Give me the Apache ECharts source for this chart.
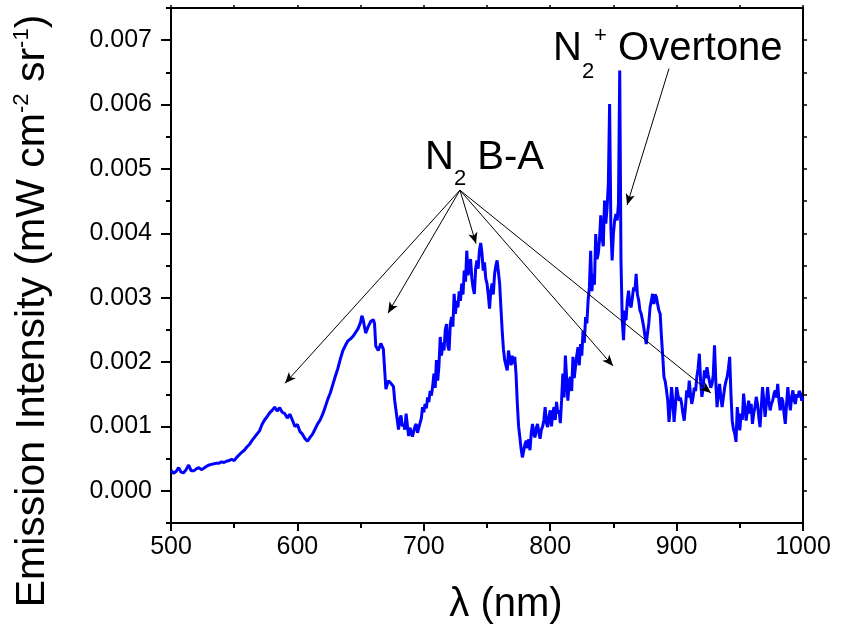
<!DOCTYPE html>
<html>
<head>
<meta charset="utf-8">
<script src="https://cdn.jsdelivr.net/npm/echarts/dist/echarts.min.js"></script>
<style>
html,body{margin:0;padding:0;background:#fff;}
#chart{width:846px;height:631px;}
</style>
</head>
<body>
<div id="chart"></div>
<script>
// Wavelength (nm)
const wavelength = [
 500,502,504,506,508,510,512,514,516,518,
 520,522,524,526,528,530,532,534,536,538,
 540,542,544,546,548,550,552,554,556,558,
 560,562,564,566,568,570,572,574,576,578,
 580,582,584,586,588,590,592,594,596,598,
 600,602,604,606,608,610,612,614,616,618,
 620,622,624,626,628,630,632,634,636,638,
 640,642,644,646,648,650,651,652,654,656,
 658,660,661,662,664,666,668,669,670,672,
 674,676,677,678,
 680,681,682,683,684,685,686,687,688,689,
 690,691,692,693,694,695,696,697,698,699,
 700,701,702,703,704,705,706,707,708,709,
 710,711,712,713,714,715,716,717,718,719,
 720,721,722,723,724,725,726,727,728,729,
 730,731,732,733,734,735,736,737,738,739,
 740,741,742,743,744,745,746,747,748,749,
 750,751,752,753,754,755,756,757,758,759,
 760,761,762,763,764,765,766,767,768,769,
 770,771,772,773,774,775,776,777,778,779,
 780,781,782,783,784,785,786,787,788,789,
 790,791,792,793,794,795,796,797,798,799,
 800,801,802,803,804,805,806,807,808,809,
 810,811,812,813,814,815,816,817,818,819,
 820,821,822,823,824,825,826,827,828,829,
 830,831,832,833,834,835,836,837,838,839,
 840,841,842,843,844,845,846,847,848,849,
 850,851,852,853,854,855,856,857,858,859,
 860,861,862,863,864,865,866,867,868,869,
 870,871,872,873,874,875,876,877,878,879,
 880,881,882,883,884,885,886,887,888,889,
 890,891,892,893,894,895,896,897,898,899,
 900,901,902,903,904,905,906,907,908,909,
 910,911,912,913,914,915,916,917,918,919,
 920,921,922,923,924,925,926,927,928,929,
 930,931,932,933,934,935,936,937,938,939,
 940,941,942,943,944,945,946,947,948,949,
 950,951,952,953,954,955,956,957,958,959,
 960,961,962,963,964,965,966,967,968,969,
 970,971,972,973,974,975,976,977,978,979,
 980,981,982,983,984,985,986,987,988,989,
 990,991,992,993,994,995,996,997,998,999,
 1000
];
// Emission intensity, in units of 0.001 mW cm^-2 sr^-1
const intensity_e3 = [
 .32,.27,.30,.36,.29,.28,.33,.40,.31,.31,
 .34,.36,.33,.35,.38,.40,.41,.42,.43,.43,
 .45,.44,.46,.47,.49,.47,.52,.56,.60,.63,
 .68,.72,.78,.83,.88,.93,1.03,1.10,1.15,1.21,
 1.25,1.30,1.24,1.29,1.22,1.20,1.13,1.19,1.10,1.00,
 1.03,.92,.88,.81,.77,.83,.88,.96,1.04,1.10,
 1.19,1.30,1.42,1.52,1.65,1.78,1.90,2.05,2.18,2.26,
 2.33,2.36,2.40,2.46,2.52,2.62,2.72,2.66,2.45,2.55,
 2.63,2.66,2.60,2.25,2.18,2.29,2.20,2.22,1.58,1.71,
 1.67,1.62,1.40,1.42,
 .95,1.12,1.17,1.00,1.04,.95,1.20,1.02,.85,.98,
 .92,.84,.87,1.00,1.04,.90,.93,1.05,1.12,1.30,
 1.22,1.35,1.28,1.45,1.38,1.55,1.48,1.62,1.82,1.60,
 2.03,1.71,1.95,2.39,2.10,2.30,2.18,2.50,2.59,2.25,
 2.18,2.60,2.70,2.55,3.06,2.75,2.95,2.85,3.10,2.95,
 3.22,3.05,3.42,3.25,3.73,3.35,3.47,3.60,3.30,3.15,
 3.06,3.45,3.58,3.45,3.73,3.85,3.70,3.42,3.55,3.30,
 3.22,3.05,2.83,3.10,3.22,3.05,3.37,3.50,3.58,3.40,
 3.22,2.85,2.49,2.20,2.03,1.95,1.87,2.18,2.05,1.95,
 2.10,1.97,2.08,1.80,1.35,1.00,.83,.65,.52,.62,
 .72,.78,.66,.80,.63,.90,1.04,.88,.83,.98,
 1.04,.90,.81,.95,1.00,1.10,1.30,1.05,.99,1.15,
 1.25,1.00,1.20,1.30,1.10,1.38,1.20,1.25,1.05,1.40,
 1.82,1.45,2.10,2.13,1.40,1.70,1.77,1.55,2.08,1.75,
 1.77,2.10,2.23,1.95,2.28,2.10,2.49,2.30,2.70,2.60,
 2.96,3.16,3.73,3.10,3.37,3.20,3.99,3.60,3.68,3.90,
 4.28,3.94,3.80,4.51,4.15,4.40,4.77,6.01,4.09,3.58,
 3.99,4.20,4.30,4.20,4.46,6.53,3.58,2.65,2.34,2.80,
 2.65,2.95,3.11,2.90,2.85,3.00,3.16,3.10,3.37,3.05,
 2.96,2.80,2.75,2.65,2.54,2.40,2.28,2.45,2.60,2.85,
 2.95,3.06,2.90,3.05,3.01,2.90,2.80,2.75,2.40,2.10,
 1.77,1.70,1.56,1.40,1.07,1.30,1.61,1.40,1.07,1.30,
 1.61,1.50,1.40,1.45,1.35,1.20,1.09,1.30,1.56,1.45,
 1.71,1.50,1.35,1.45,1.60,1.55,1.77,1.90,2.13,1.70,
 1.46,1.60,1.87,1.75,1.92,1.80,1.70,1.60,1.66,1.80,
 2.26,1.70,1.30,1.50,1.66,1.45,1.30,1.45,1.60,1.70,
 1.77,1.90,2.08,1.50,1.09,.95,.89,.76,1.30,1.10,
 .94,1.20,1.10,1.51,1.30,1.09,1.25,1.40,1.20,1.35,
 1.04,1.20,1.30,1.46,1.35,1.15,.99,1.30,1.61,1.40,
 1.15,1.35,1.61,1.40,1.25,1.35,1.40,1.50,1.56,1.45,
 1.66,1.40,1.25,1.45,1.40,1.20,1.04,1.35,1.61,1.40,
 1.25,1.45,1.56,1.40,1.35,1.50,1.45,1.55,1.51,1.40,
 1.45
];
// Axis ticks
const xTicks = [500, 600, 700, 800, 900, 1000];
const yTickLabels = [0, 0.001, 0.002, 0.003, 0.004, 0.005, 0.006, 0.007];
const yMinorTicks = [-0.0005, 0.0005, 0.0015, 0.0025, 0.0035, 0.0045, 0.0055, 0.0065, 0.0075];
const yRightTicks = [0, 0.0005, 0.001, 0.0015, 0.002, 0.0025, 0.003, 0.0035, 0.004, 0.0045, 0.005, 0.0055, 0.006, 0.0065, 0.007];
// Annotation arrows (data coordinates): [start, end]
const bandArrowStart = [728.6, 0.00467];
const bandArrowEnds = [[590.2, 0.00167], [671.7, 0.00276], [741.3, 0.00384], [849.7, 0.00194], [927.2, 0.00152]];
const overtoneArrow = [[894.0, 0.00656], [860.8, 0.00444]];

const FONT = 'Liberation Sans, Arial, sans-serif';
const spectrum = wavelength.map((w, i) => [w, intensity_e3[i] * 1e-3]);

const arrowData = bandArrowEnds.map(e => [{coord: bandArrowStart}, {coord: e}]);
arrowData.push([{coord: overtoneArrow[0]}, {coord: overtoneArrow[1]}]);

const chart = echarts.init(document.getElementById('chart'), null, {renderer: 'canvas'});
const axisLineStyle = {color: '#000', width: 2};
chart.setOption({
  animation: false,
  backgroundColor: '#fff',
  grid: {left: 171, right: 43, top: 8, bottom: 108, containLabel: false, outerBoundsMode: 'none'},
  xAxis: [
    {
      type: 'value', position: 'bottom', min: 500, max: 1000, interval: 100,
      axisLine: {show: true, onZero: false, lineStyle: axisLineStyle},
      axisTick: {show: true, inside: false, length: 8, lineStyle: {color: '#000', width: 2}},
      minorTick: {show: true, splitNumber: 2, length: 5, lineStyle: {color: '#000', width: 2}},
      splitLine: {show: false}, minorSplitLine: {show: false},
      axisLabel: {show: true, margin: 12, fontSize: 25, fontFamily: FONT, color: '#000',
        customValues: xTicks, formatter: v => String(v)}
    },
    {
      type: 'value', position: 'top', min: 500, max: 1000, interval: 100,
      axisLine: {show: true, onZero: false, lineStyle: axisLineStyle},
      axisTick: {show: true, inside: false, length: 3, lineStyle: {color: '#000', width: 1.5}},
      minorTick: {show: true, splitNumber: 2, length: 3, lineStyle: {color: '#000', width: 1.5}},
      splitLine: {show: false}, axisLabel: {show: false}
    }
  ],
  yAxis: [
    {
      type: 'value', position: 'left', min: -0.0005, max: 0.0075,
      axisLine: {show: true, onZero: false, lineStyle: axisLineStyle},
      axisTick: {show: true, inside: false, length: 10, customValues: yTickLabels, lineStyle: {color: '#000', width: 2}},
      splitLine: {show: false},
      axisLabel: {show: true, margin: 19, fontSize: 25, fontFamily: FONT, color: '#000',
        customValues: yTickLabels, formatter: v => v.toFixed(3)}
    },
    {
      type: 'value', position: 'left', min: -0.0005, max: 0.0075,
      axisLine: {show: false},
      axisTick: {show: true, inside: false, length: 5, customValues: yMinorTicks, lineStyle: {color: '#000', width: 2}},
      splitLine: {show: false},
      axisLabel: {show: false}
    },
    {
      type: 'value', position: 'right', min: -0.0005, max: 0.0075,
      axisLine: {show: true, onZero: false, lineStyle: axisLineStyle},
      axisTick: {show: true, inside: false, length: 4, customValues: yRightTicks, lineStyle: {color: '#000', width: 1.5}},
      splitLine: {show: false},
      axisLabel: {show: false}
    }
  ],
  series: [
    {
      type: 'line', xAxisIndex: 0, yAxisIndex: 0, data: spectrum,
      showSymbol: false, symbol: 'none', smooth: false,
      lineStyle: {color: '#0000ff', width: 3},
      clip: true,
      markLine: {
        silent: true, animation: false,
        symbol: ['none', 'arrow'], symbolSize: [7, 11],
        lineStyle: {color: '#000', width: 1, type: 'solid'},
        label: {show: false},
        data: arrowData
      }
    }
  ],
  graphic: [
    {
      type: 'text', x: 33, y: 311, rotation: Math.PI / 2,
      style: {
        text: '{a|Emission Intensity (mW cm}{s|-2}{a| sr}{s|-1}{a|)}',
        textAlign: 'center', textVerticalAlign: 'middle', fill: '#000',
        rich: {
          a: {fontSize: 41, fontFamily: FONT, fill: '#000'},
          s: {fontSize: 22, fontFamily: FONT, fill: '#000', padding: [0, 0, 22, 0]}
        }
      }
    },
    {
      type: 'text', x: 506, y: 605,
      style: {text: 'λ (nm)', fontSize: 40, fontFamily: FONT, fill: '#000', textAlign: 'center', textVerticalAlign: 'middle'}
    },
    {
      type: 'text', x: 425, y: 158,
      style: {
        text: '{n|N}{s|2}{n| B-A}', textAlign: 'left', textVerticalAlign: 'middle', fill: '#000',
        rich: {
          n: {fontSize: 40, fontFamily: FONT, fill: '#000'},
          s: {fontSize: 22, fontFamily: FONT, fill: '#000', padding: [42, 0, 0, 0]}
        }
      }
    },
    {
      type: 'text', x: 553, y: 49,
      style: {
        text: '{n|N}{s|2}{p|+}{n| Overtone}', textAlign: 'left', textVerticalAlign: 'middle', fill: '#000',
        rich: {
          n: {fontSize: 40, fontFamily: FONT, fill: '#000'},
          s: {fontSize: 22, fontFamily: FONT, fill: '#000', padding: [46, 0, 0, 0]},
          p: {fontSize: 22, fontFamily: FONT, fill: '#000', padding: [0, 0, 27, 0]}
        }
      }
    }
  ]
});
</script>
</body>
</html>
